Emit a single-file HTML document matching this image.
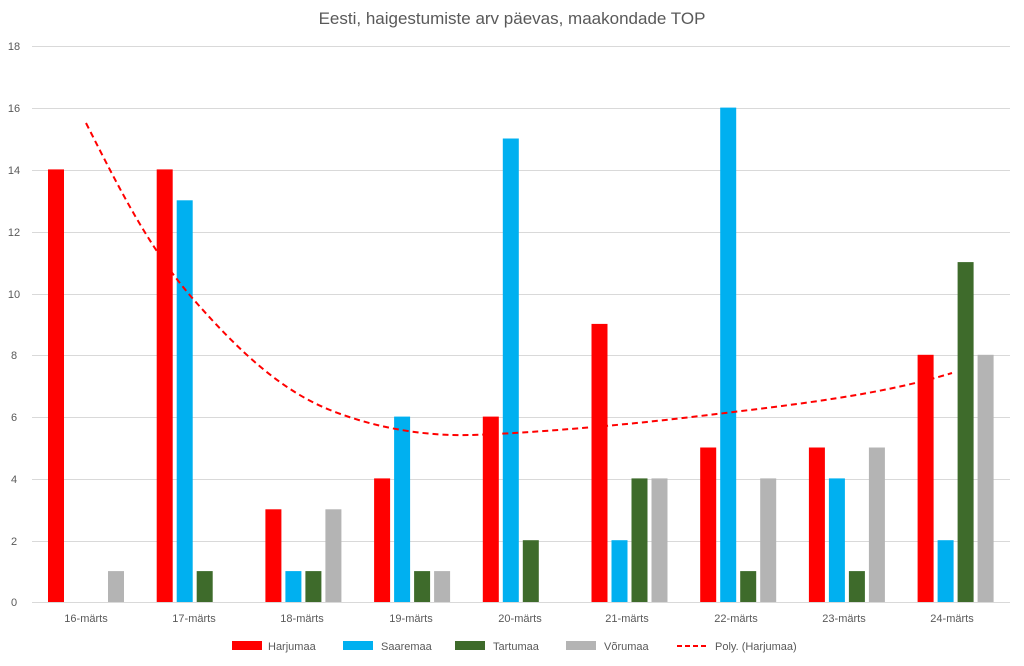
<!DOCTYPE html>
<html><head><meta charset="utf-8"><style>
body{margin:0;background:#fff;}
text{font-family:"Liberation Sans",sans-serif;fill:#595959;}
</style></head><body>
<svg width="1024" height="661" viewBox="0 0 1024 661" xmlns="http://www.w3.org/2000/svg">
<text x="512" y="24" font-size="17" text-anchor="middle">Eesti, haigestumiste arv päevas, maakondade TOP</text>
<g stroke="#d9d9d9" stroke-width="1">
<line x1="32" x2="1010" y1="46.5" y2="46.5"/>
<line x1="32" x2="1010" y1="108.5" y2="108.5"/>
<line x1="32" x2="1010" y1="170.5" y2="170.5"/>
<line x1="32" x2="1010" y1="232.5" y2="232.5"/>
<line x1="32" x2="1010" y1="294.5" y2="294.5"/>
<line x1="32" x2="1010" y1="355.5" y2="355.5"/>
<line x1="32" x2="1010" y1="417.5" y2="417.5"/>
<line x1="32" x2="1010" y1="479.5" y2="479.5"/>
<line x1="32" x2="1010" y1="541.5" y2="541.5"/>
<line x1="32" x2="1010" y1="602.5" y2="602.5"/>
</g>
<g font-size="11" text-anchor="middle">
<text x="14" y="50">18</text><text x="14" y="112">16</text><text x="14" y="174">14</text>
<text x="14" y="236">12</text><text x="14" y="298">10</text><text x="14" y="359">8</text>
<text x="14" y="421">6</text><text x="14" y="483">4</text><text x="14" y="545">2</text>
<text x="14" y="606">0</text>
<text x="86" y="622">16-märts</text><text x="194" y="622">17-märts</text><text x="302" y="622">18-märts</text>
<text x="411" y="622">19-märts</text><text x="520" y="622">20-märts</text><text x="627" y="622">21-märts</text>
<text x="736" y="622">22-märts</text><text x="844" y="622">23-märts</text><text x="952" y="622">24-märts</text>
</g>
<g>
<rect x="48" y="169.4" width="16" height="432.6" fill="#ff0000"/>
<rect x="108" y="571.1" width="16" height="30.9" fill="#b4b4b4"/>

<rect x="156.7" y="169.4" width="16" height="432.6" fill="#ff0000"/>
<rect x="176.7" y="200.3" width="16" height="401.7" fill="#00b0f0"/>
<rect x="196.7" y="571.1" width="16" height="30.9" fill="#3e6b2b"/>

<rect x="265.4" y="509.3" width="16" height="92.7" fill="#ff0000"/>
<rect x="285.4" y="571.1" width="16" height="30.9" fill="#00b0f0"/>
<rect x="305.4" y="571.1" width="16" height="30.9" fill="#3e6b2b"/>
<rect x="325.4" y="509.3" width="16" height="92.7" fill="#b4b4b4"/>

<rect x="374.1" y="478.4" width="16" height="123.6" fill="#ff0000"/>
<rect x="394.1" y="416.6" width="16" height="185.4" fill="#00b0f0"/>
<rect x="414.1" y="571.1" width="16" height="30.9" fill="#3e6b2b"/>
<rect x="434.1" y="571.1" width="16" height="30.9" fill="#b4b4b4"/>

<rect x="482.8" y="416.6" width="16" height="185.4" fill="#ff0000"/>
<rect x="502.8" y="138.5" width="16" height="463.5" fill="#00b0f0"/>
<rect x="522.8" y="540.2" width="16" height="61.8" fill="#3e6b2b"/>

<rect x="591.5" y="323.9" width="16" height="278.1" fill="#ff0000"/>
<rect x="611.5" y="540.2" width="16" height="61.8" fill="#00b0f0"/>
<rect x="631.5" y="478.4" width="16" height="123.6" fill="#3e6b2b"/>
<rect x="651.5" y="478.4" width="16" height="123.6" fill="#b4b4b4"/>

<rect x="700.2" y="447.5" width="16" height="154.5" fill="#ff0000"/>
<rect x="720.2" y="107.6" width="16" height="494.4" fill="#00b0f0"/>
<rect x="740.2" y="571.1" width="16" height="30.9" fill="#3e6b2b"/>
<rect x="760.2" y="478.4" width="16" height="123.6" fill="#b4b4b4"/>

<rect x="808.9" y="447.5" width="16" height="154.5" fill="#ff0000"/>
<rect x="828.9" y="478.4" width="16" height="123.6" fill="#00b0f0"/>
<rect x="848.9" y="571.1" width="16" height="30.9" fill="#3e6b2b"/>
<rect x="868.9" y="447.5" width="16" height="154.5" fill="#b4b4b4"/>

<rect x="917.6" y="354.8" width="16" height="247.2" fill="#ff0000"/>
<rect x="937.6" y="540.2" width="16" height="61.8" fill="#00b0f0"/>
<rect x="957.6" y="262.1" width="16" height="339.9" fill="#3e6b2b"/>
<rect x="977.6" y="354.8" width="16" height="247.2" fill="#b4b4b4"/>
</g>
<path d="M86,123 C120,190 150,250 194,300 S280,390 330,410 S430,436 470,435 S600,428 700,416 S880,395 952,373" fill="none" stroke="#ff0000" stroke-width="2" stroke-dasharray="6,4"/>
<g font-size="11">
<rect x="232" y="641" width="30" height="9" fill="#ff0000"/><text x="268" y="650">Harjumaa</text>
<rect x="343" y="641" width="30" height="9" fill="#00b0f0"/><text x="381" y="650">Saaremaa</text>
<rect x="455" y="641" width="30" height="9" fill="#3e6b2b"/><text x="493" y="650">Tartumaa</text>
<rect x="566" y="641" width="30" height="9" fill="#b4b4b4"/><text x="604" y="650">Võrumaa</text>
<line x1="677" x2="707" y1="646" y2="646" stroke="#ff0000" stroke-width="2" stroke-dasharray="5,3"/><text x="715" y="650">Poly. (Harjumaa)</text>
</g>
</svg>
</body></html>
